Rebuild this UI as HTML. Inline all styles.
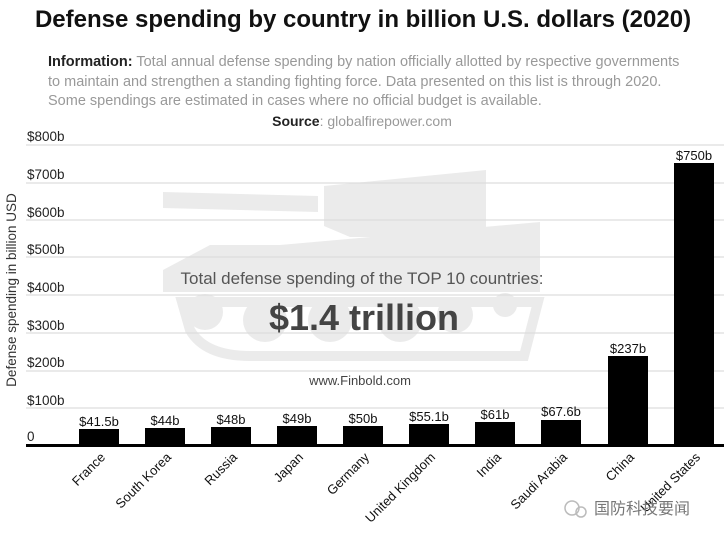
<!DOCTYPE html>
<html><head><meta charset="utf-8"><style>
body{margin:0;width:724px;height:539px;background:#fff;font-family:"Liberation Sans","Noto Sans CJK SC",sans-serif;overflow:hidden;position:relative}
.t{position:absolute;white-space:nowrap}
</style></head><body>
<div class="t" style="left:0;width:726px;top:6px;text-align:center;font-size:24px;font-weight:bold;color:#111">Defense spending by country in billion U.S. dollars (2020)</div>
<div class="t" style="left:48px;top:53px;font-size:14.5px;line-height:19.5px;color:#999"><b style="color:#222">Information:</b> Total annual defense spending by nation officially allotted by respective governments<br>to maintain and strengthen a standing fighting force. Data presented on this list is through 2020.<br>Some spendings are estimated in cases where no official budget is available.</div>
<div class="t" style="left:0;width:724px;top:113px;text-align:center;font-size:14px;color:#999"><b style="color:#222">Source</b>: globalfirepower.com</div>
<svg width="724" height="539" style="position:absolute;left:0;top:0" font-family="Liberation Sans, sans-serif">
<g fill="#ebebeb">
<polygon points="163,192 318,196 318,212 163,208"/>
<polygon points="324,186 486,170 486,237 350,237 324,226"/>
<polygon points="210,245 280,245 540,222 540,292 163,292 163,270"/>
<path d="M182,302 L538,302 L524,356 L250,356 Q205,356 190,330 Z" fill="none" stroke="#ebebeb" stroke-width="10"/>
<circle cx="205" cy="312" r="18"/><circle cx="265" cy="320" r="22"/><circle cx="330" cy="320" r="22"/><circle cx="400" cy="320" r="22"/><circle cx="455" cy="315" r="18"/><circle cx="505" cy="305" r="12"/>
</g>
<g stroke="#ddd" stroke-width="1.3">
<line x1="26" x2="724" y1="145" y2="145"/><line x1="26" x2="724" y1="183" y2="183"/><line x1="26" x2="724" y1="220" y2="220"/><line x1="26" x2="724" y1="257" y2="257"/><line x1="26" x2="724" y1="295" y2="295"/><line x1="26" x2="724" y1="333" y2="333"/><line x1="26" x2="724" y1="371" y2="371"/><line x1="26" x2="724" y1="408" y2="408"/>
</g>
<g font-size="13.5" fill="#222">
<text x="27" y="141">$800b</text><text x="27" y="179">$700b</text><text x="27" y="217">$600b</text><text x="27" y="254">$500b</text><text x="27" y="292">$400b</text><text x="27" y="330">$300b</text><text x="27" y="367">$200b</text><text x="27" y="405">$100b</text><text x="27" y="441">0</text>
</g>
<text transform="translate(16,290) rotate(-90)" text-anchor="middle" font-size="13.5" fill="#333">Defense spending in billion USD</text>
<text x="362" y="284" text-anchor="middle" font-size="17" fill="#555">Total defense spending of the TOP 10 countries:</text>
<text x="364" y="330" text-anchor="middle" font-size="36" font-weight="bold" fill="#444">$1.4 trillion</text>
<text x="360" y="385" text-anchor="middle" font-size="13" fill="#444">www.Finbold.com</text>
<g fill="#000">
<rect x="79" y="429" width="40" height="16"/><rect x="145" y="428" width="40" height="17"/><rect x="211" y="427" width="40" height="18"/><rect x="277" y="426" width="40" height="19"/><rect x="343" y="426" width="40" height="19"/><rect x="409" y="424" width="40" height="21"/><rect x="475" y="422" width="40" height="23"/><rect x="541" y="420" width="40" height="25"/><rect x="608" y="356" width="40" height="89"/><rect x="674" y="163" width="40" height="282"/>
<rect x="26" y="444" width="698" height="3"/>
</g>
<g font-size="13" fill="#111" text-anchor="middle">
<text x="99" y="426">$41.5b</text><text x="165" y="425">$44b</text><text x="231" y="424">$48b</text><text x="297" y="423">$49b</text><text x="363" y="423">$50b</text><text x="429" y="421">$55.1b</text><text x="495" y="419">$61b</text><text x="561" y="416">$67.6b</text><text x="628" y="353">$237b</text><text x="694" y="160">$750b</text>
</g>
<g font-size="13" fill="#111" text-anchor="end">
<text transform="translate(106,458) rotate(-45)">France</text>
<text transform="translate(172,458) rotate(-45)">South Korea</text>
<text transform="translate(238,458) rotate(-45)">Russia</text>
<text transform="translate(304,458) rotate(-45)">Japan</text>
<text transform="translate(370,458) rotate(-45)">Germany</text>
<text transform="translate(436,458) rotate(-45)">United Kingdom</text>
<text transform="translate(502,458) rotate(-45)">India</text>
<text transform="translate(568,458) rotate(-45)">Saudi Arabia</text>
<text transform="translate(635,458) rotate(-45)">China</text>
<text transform="translate(701,458) rotate(-45)">United States</text>
</g>
<text x="594" y="514" font-size="16" fill="#777" font-family="Noto Sans CJK SC, sans-serif">国防科技要闻</text>
<circle cx="572" cy="508" r="7" fill="none" stroke="#bbb" stroke-width="1.5"/><circle cx="581" cy="512" r="5" fill="none" stroke="#bbb" stroke-width="1.5"/>
</svg>
</body></html>
